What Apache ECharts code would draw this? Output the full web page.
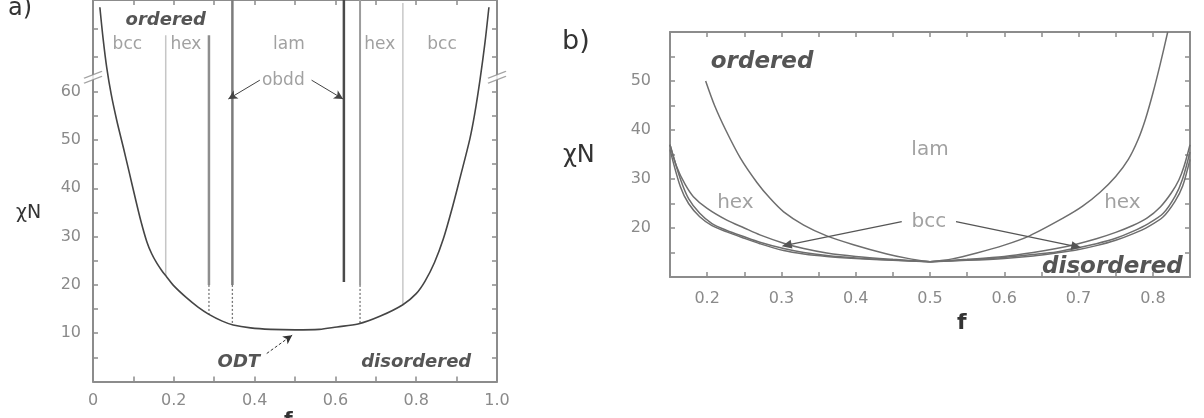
<!DOCTYPE html>
<html>
<head>
<meta charset="utf-8">
<script src="https://cdn.jsdelivr.net/npm/echarts@6/dist/echarts.min.js"></script>
<style>
  html, body { margin: 0; padding: 0; background: #fff; }
  #chart { width: 1204px; height: 418px; }
</style>
</head>
<body>
<div id="chart"></div>
<script>
// ---- panel a) : mean-field ODT curve and phase boundaries ----
const odtF = [0.017, 0.025, 0.034, 0.045, 0.059, 0.075, 0.09, 0.104, 0.118, 0.133, 0.145, 0.158, 0.17, 0.182, 0.199,
  0.232, 0.26, 0.287, 0.32, 0.347, 0.39, 0.44, 0.5, 0.56, 0.604, 0.656, 0.71, 0.767, 0.8, 0.822, 0.845, 0.867,
  0.891, 0.908, 0.933, 0.945, 0.958, 0.97, 0.98];
const odtChiN = [77.5, 71, 65, 59.5, 54, 48.5, 43.2, 38.2, 33.4, 29, 26.5, 24.5, 23, 21.7, 19.9,
  17.3, 15.4, 13.9, 12.5, 11.7, 11.1, 10.8, 10.7, 10.8, 11.3, 11.9, 13.5, 15.9, 18.2, 20.8, 24.6, 29.5,
  36.5, 42, 50.3, 55.5, 62.5, 70, 77.5];

// vertical boundaries: f, top, end of solid part, end of dotted part (on the ODT curve)
const bndF = [0.18, 0.287, 0.345, 0.621, 0.661, 0.767];
const bndTop = [71.7, 71.7, 79, 79, 79, 78.4];
const bndSolidEnd = [21.9, 20, 20, 20.6, 20, 15.9];
const bndCurveEnd = [21.9, 13.9, 11.7, 20.6, 11.9, 15.9];

const yTicksA = [5, 10, 15, 20, 25, 30, 35, 40, 45, 50, 55, 60, 67.2, 73];
const yLabelsA = [10, 20, 30, 40, 50, 60];
const axisBreakA = 63;

// ---- panel b) : SCFT phase diagram ----
const lamHexF = [0.198, 0.21, 0.225, 0.245, 0.267, 0.285, 0.303, 0.33, 0.361, 0.397, 0.442, 0.47, 0.5,
  0.53, 0.563, 0.6, 0.634, 0.679, 0.705, 0.729, 0.75, 0.767, 0.78, 0.79, 0.8, 0.81, 0.82];
const lamHexChiN = [50, 45, 40, 34.2, 29.3, 26, 23.3, 20.6, 18.4, 16.6, 14.7, 13.8, 13.1,
  13.7, 14.9, 16.5, 18.4, 22, 24.4, 27.3, 30.5, 34, 38, 42.2, 47.5, 53.5, 60];

const hexBccF = [0.15, 0.159, 0.17, 0.1815, 0.2, 0.2265, 0.25, 0.271, 0.303, 0.33, 0.361, 0.4, 0.45, 0.5,
  0.55, 0.6, 0.639, 0.67, 0.697, 0.724, 0.75, 0.773, 0.792, 0.81, 0.825, 0.835, 0.842, 0.85];
const hexBccChiN = [37, 32.5, 29, 26.4, 24, 21.6, 20, 18.6, 16.9, 15.8, 14.9, 14.2, 13.6, 13.1,
  13.6, 14.2, 15, 15.8, 16.7, 17.8, 19.1, 20.5, 22, 24.3, 27.2, 29.8, 32.6, 37];

const bccDisF = [0.15, 0.164, 0.175, 0.19, 0.2065, 0.2265, 0.25, 0.271, 0.303, 0.33, 0.361, 0.4, 0.45, 0.5,
  0.55, 0.6, 0.639, 0.67, 0.697, 0.724, 0.75, 0.773, 0.794, 0.814, 0.83, 0.84, 0.85];
const bccDisChiN = [37, 30, 26, 23, 20.9, 19.5, 18.2, 17.1, 15.8, 15, 14.4, 13.9, 13.45, 13.1,
  13.5, 14, 14.6, 15.1, 15.9, 16.8, 17.9, 19.3, 20.9, 23, 26.5, 30, 35.5];

const odtBF = [0.15, 0.164, 0.175, 0.19, 0.2065, 0.2265, 0.25, 0.271, 0.303, 0.33, 0.361, 0.4, 0.45, 0.5,
  0.55, 0.6, 0.639, 0.67, 0.697, 0.724, 0.75, 0.773, 0.794, 0.814, 0.83, 0.84, 0.85];
const odtBChiN = [36, 28.4, 25, 22.3, 20.5, 19.2, 17.9, 16.8, 15.4, 14.7, 14.2, 13.8, 13.4, 13.1,
  13.4, 13.8, 14.3, 14.9, 15.5, 16.4, 17.5, 18.8, 20.3, 22.3, 25.5, 28.5, 34];

// ---- build the chart ----
const pairs = (xs, ys) => xs.map((x, i) => [x, ys[i]]);
const axisGrey = '#8c8c8c';
const font = 'DejaVu Sans';

const bndStyle = [
  { color: '#c6c6c6', width: 1.5 },
  { color: '#8e8e8e', width: 2.5 },
  { color: '#7c7c7c', width: 2.5 },
  { color: '#4a4a4a', width: 2.5 },
  { color: '#9c9c9c', width: 2 },
  { color: '#c8c8c8', width: 1.5 }
];

const bold = size => ({ fontSize: size, fontStyle: 'italic', fontWeight: 'bold', color: '#2b2b2b', fontFamily: font });
const phase = size => ({ fontSize: size, color: '#8a8a8a', fontFamily: font });

function frameAxis(gridIndex, position, extra) {
  return Object.assign({
    gridIndex: gridIndex,
    type: 'value',
    position: position,
    axisLine: { onZero: false, lineStyle: { color: axisGrey, width: 2 } },
    axisTick: { inside: true, length: 5, lineStyle: { color: axisGrey, width: 1.5 } },
    axisLabel: { show: false },
    splitLine: { show: false }
  }, extra);
}

const tickLabel = { color: '#8a8a8a', fontFamily: font, fontSize: 16 };

const xAxis = [
  frameAxis(0, 'bottom', {
    min: 0, max: 1, interval: 0.1,
    axisLabel: Object.assign({
      show: true, margin: 11,
      formatter: v => (Math.round(v * 10) % 2 === 0 ? (v === 0 ? '0' : v.toFixed(1)) : '')
    }, tickLabel)
  }),
  frameAxis(0, 'top', { min: 0, max: 1, interval: 0.1 }),
  frameAxis(1, 'bottom', {
    min: 0.15, max: 0.85, interval: 0.05,
    axisLabel: Object.assign({
      show: true, margin: 14,
      formatter: v => (Math.round(v * 100) % 10 === 0 ? v.toFixed(1) : '')
    }, tickLabel)
  }),
  frameAxis(1, 'top', { min: 0.15, max: 0.85, interval: 0.05 })
];

const yAxis = [
  frameAxis(0, 'left', {
    min: 0, max: 79,
    axisTick: { inside: true, length: 5, customValues: yTicksA, lineStyle: { color: axisGrey, width: 1.5 } },
    axisLabel: Object.assign({ show: true, margin: 12, customValues: yLabelsA }, tickLabel)
  }),
  frameAxis(0, 'right', {
    min: 0, max: 79,
    axisTick: { inside: true, length: 5, customValues: yTicksA, lineStyle: { color: axisGrey, width: 1.5 } }
  }),
  frameAxis(1, 'left', {
    min: 10, max: 60, interval: 5,
    axisLabel: Object.assign({
      show: true, margin: 19,
      formatter: v => (v % 10 === 0 && v >= 20 && v <= 50 ? String(v) : '')
    }, tickLabel)
  }),
  frameAxis(1, 'right', { min: 10, max: 60, interval: 5 })
];

const series = [];

// panel a curve
series.push({
  type: 'line', xAxisIndex: 0, yAxisIndex: 0, data: pairs(odtF, odtChiN),
  smooth: 0.3, showSymbol: false, silent: true,
  lineStyle: { color: '#454545', width: 1.6 }, z: 4
});

// panel a vertical boundaries
bndF.forEach((f, i) => {
  series.push({
    type: 'line', xAxisIndex: 0, yAxisIndex: 0, showSymbol: false, silent: true,
    data: [[f, bndTop[i]], [f, bndSolidEnd[i]]],
    lineStyle: { color: bndStyle[i].color, width: bndStyle[i].width }, z: 3
  });
  if (bndCurveEnd[i] < bndSolidEnd[i]) {
    series.push({
      type: 'line', xAxisIndex: 0, yAxisIndex: 0, showSymbol: false, silent: true,
      data: [[f, bndSolidEnd[i]], [f, bndCurveEnd[i]]],
      lineStyle: { color: '#777', width: 1.3, type: [2, 2] }, z: 3
    });
  }
});

// axis break marks on both y axes of panel a
series.push({
  type: 'scatter', xAxisIndex: 0, yAxisIndex: 0, silent: true, clip: false,
  symbol: 'path://M0,9L18,2L18,7L0,14Z', symbolSize: [18, 12],
  itemStyle: { color: '#fff' }, data: [[0, axisBreakA], [1, axisBreakA]], z: 5
});
series.push({
  type: 'scatter', xAxisIndex: 0, yAxisIndex: 0, silent: true, clip: false,
  symbol: 'path://M0,9L18,2M0,14L18,7', symbolSize: [18, 12],
  itemStyle: { color: 'rgba(0,0,0,0)', borderColor: axisGrey, borderWidth: 1.5 },
  data: [[0, axisBreakA], [1, axisBreakA]], z: 6
});

// panel a annotations
series.push({
  type: 'scatter', xAxisIndex: 0, yAxisIndex: 0, silent: true,
  symbolSize: 1, itemStyle: { color: 'rgba(0,0,0,0)' },
  label: { show: true, position: 'inside', formatter: '{b}' },
  data: [
    { name: 'ordered', value: [0.18, 74.8], label: bold(18) },
    { name: 'bcc', value: [0.085, 69.7], label: phase(17) },
    { name: 'hex', value: [0.23, 69.7], label: phase(17) },
    { name: 'lam', value: [0.485, 69.7], label: phase(17) },
    { name: 'hex', value: [0.71, 69.7], label: phase(17) },
    { name: 'bcc', value: [0.864, 69.7], label: phase(17) },
    { name: 'obdd', value: [0.471, 62.4], label: phase(17) },
    { name: 'ODT', value: [0.361, 4.0], label: bold(18) },
    { name: 'disordered', value: [0.8, 4.0], label: bold(18) }
  ],
  markLine: {
    silent: true, symbol: ['none', 'arrow'], symbolSize: [7, 9], animation: false,
    label: { show: false },
    lineStyle: { color: '#444', width: 1, type: 'solid' },
    data: [
      [{ coord: [0.413, 62.4], lineStyle: { curveness: -0.55 } }, { coord: [0.335, 58.5] }],
      [{ coord: [0.541, 62.4], lineStyle: { curveness: 0.55 } }, { coord: [0.619, 58.5] }],
      [{ coord: [0.43, 5.8], lineStyle: { curveness: 0.2, type: [3, 2], color: '#333' } }, { coord: [0.493, 9.6] }]
    ]
  },
  z: 8
});

// panel b curves, each split at the cusp f = 0.5
[[lamHexF, lamHexChiN], [hexBccF, hexBccChiN], [bccDisF, bccDisChiN], [odtBF, odtBChiN]].forEach(c => {
  const pts = pairs(c[0], c[1]);
  [pts.filter(p => p[0] <= 0.5), pts.filter(p => p[0] >= 0.5)].forEach(part => {
    series.push({
      type: 'line', xAxisIndex: 2, yAxisIndex: 2, data: part,
      smooth: 0.3, showSymbol: false, silent: true,
      lineStyle: { color: '#6e6e6e', width: 1.5 }, z: 3
    });
  });
});

// panel b annotations
series.push({
  type: 'scatter', xAxisIndex: 2, yAxisIndex: 2, silent: true,
  symbolSize: 1, itemStyle: { color: 'rgba(0,0,0,0)' },
  label: { show: true, position: 'inside', formatter: '{b}' },
  data: [
    { name: 'ordered', value: [0.274, 53.8], label: bold(23) },
    { name: 'lam', value: [0.5, 35.9], label: phase(20) },
    { name: 'hex', value: [0.238, 25.2], label: phase(20) },
    { name: 'hex', value: [0.759, 25.2], label: phase(20) },
    { name: 'bcc', value: [0.4985, 21.3], label: phase(20) },
    { name: 'disordered', value: [0.7455, 12.1], label: bold(23) }
  ],
  markLine: {
    silent: true, symbol: ['none', 'triangle'], symbolSize: [9, 10], animation: false,
    label: { show: false },
    lineStyle: { color: '#555', width: 1.2, type: 'solid', curveness: 0 },
    data: [
      [{ coord: [0.462, 21.3] }, { coord: [0.307, 16.5] }],
      [{ coord: [0.535, 21.3] }, { coord: [0.697, 16.2] }]
    ]
  },
  z: 8
});

const option = {
  animation: false,
  backgroundColor: '#fff',
  grid: [
    { left: 93, right: 707, top: 0, bottom: 36.5, outerBoundsMode: 'none' },
    { left: 670, right: 14, top: 32, bottom: 141, outerBoundsMode: 'none' }
  ],
  xAxis: xAxis,
  yAxis: yAxis,
  series: series,
  graphic: [
    { type: 'text', left: 8, top: -3, style: { text: 'a)', font: '24px "DejaVu Sans"', fill: '#333' } },
    { type: 'text', left: 562, top: 28, style: { text: 'b)', font: '27px "DejaVu Sans"', fill: '#333' } },
    { type: 'text', left: 16, top: 204, style: { text: '\u03c7N', font: '19px "DejaVu Sans"', fill: '#333' } },
    { type: 'text', left: 563, top: 144, style: { text: '\u03c7N', font: '24px "DejaVu Sans"', fill: '#333' } },
    { type: 'text', left: 284, top: 411, style: { text: 'f', font: 'bold 20px "DejaVu Sans"', fill: '#333' } },
    { type: 'text', left: 957, top: 312, style: { text: 'f', font: 'bold 22px "DejaVu Sans"', fill: '#333' } }
  ]
};

const chart = echarts.init(document.getElementById('chart'));
chart.setOption(option);
</script>
</body>
</html>
